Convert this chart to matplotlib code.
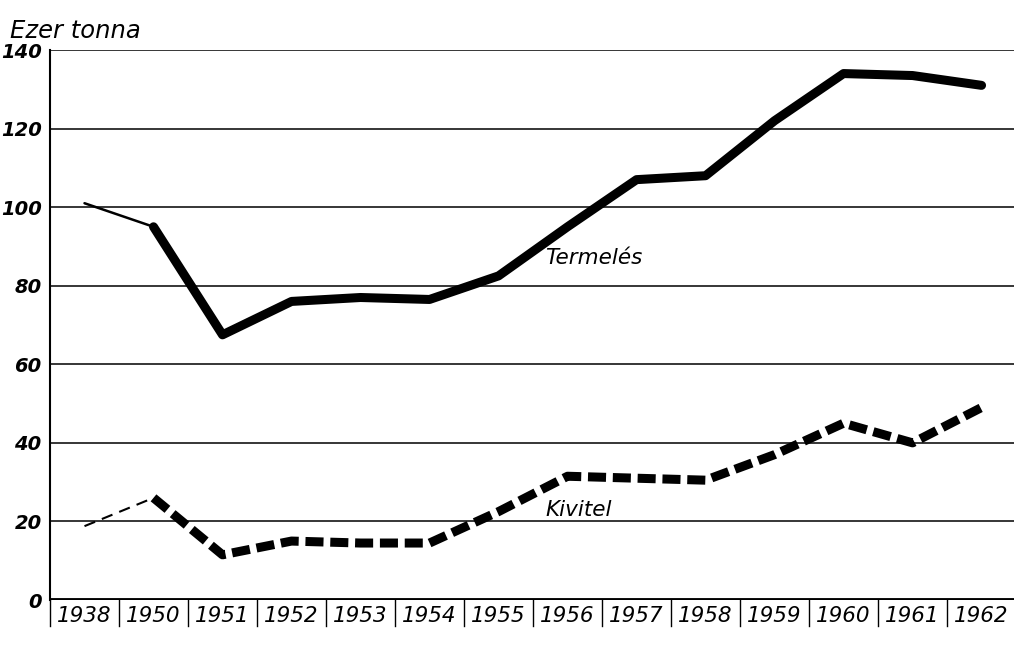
import matplotlib
matplotlib.use('Agg')
import matplotlib.pyplot as plt
import matplotlib.transforms as mtransforms

years = ['1938', '1950', '1951', '1952', '1953', '1954', '1955',
         '1956', '1957', '1958', '1959', '1960', '1961', '1962']
termeles = [101, 95, 67.5, 76, 77, 76.5, 82.5, 95, 107, 108, 122, 134, 133.5, 131]
kivitel = [18.8, 26, 11.5, 15, 14.5, 14.5, 22.5, 31.5, 31, 30.5, 37, 45, 40, 49]
yticks = [0, 20, 40, 60, 80, 100, 120, 140]

FONT = ['DejaVu Sans']
x = list(range(len(years)))

fig = plt.figure(figsize=(10.14, 6.46), dpi=100)
ax = fig.add_axes([50/1014, 46/646, 964/1014, 550/646])
ax.set_xlim(-0.5, 13.47)
ax.set_ylim(0, 140)

# horizontal rules
for v in yticks[1:]:
    ax.axhline(v, color='black', lw=1.1, zorder=1)
ax.axhline(0, color='black', lw=3.5, zorder=3)

# Termelés: thin first segment, thick after
ax.plot(x[:2], termeles[:2], color='black', lw=1.8, solid_capstyle='round', zorder=4)
ax.plot(x[1:], termeles[1:], color='black', lw=6.5, solid_joinstyle='round',
        solid_capstyle='round', zorder=4)

# Kivitel: thin dashed first segment, thick dashed after
ax.plot(x[:2], kivitel[:2], color='black', lw=1.5, dashes=(5.5, 3.5), zorder=4)
ax.plot(x[1:], kivitel[1:], color='black', lw=6.5, dashes=(2.0, 0.75),
        dash_capstyle='butt', zorder=4)

ax.text(6.68, 87, 'Termelés', fontsize=15.5, style='italic', family=FONT, va='center')
ax.text(6.68, 23, 'Kivitel', fontsize=15.5, style='italic', family=FONT, va='center')

for s in ['top', 'right', 'bottom']:
    ax.spines[s].set_visible(False)
ax.spines['left'].set_linewidth(1.5)

ax.set_yticks(yticks)
ax.set_yticklabels([str(v) for v in yticks], fontsize=14, style='italic',
                   fontweight='bold', family=FONT)
ax.tick_params(axis='y', length=0, pad=6)

ax.set_xticks(x)
ax.set_xticklabels(years, fontsize=15.5, style='italic', family=FONT)
ax.tick_params(axis='x', length=0, pad=4)

# separators between year cells
trans = mtransforms.blended_transform_factory(ax.transData, ax.transAxes)
for b in range(len(years)):
    ax.plot([b - 0.5, b - 0.5], [0, -0.048], color='black', lw=1.0,
            transform=trans, clip_on=False)

fig.text(10/1014, 1 - 38/646, 'Ezer tonna', fontsize=17.5, style='italic', family=FONT)

fig.savefig('out.png', dpi=100)
